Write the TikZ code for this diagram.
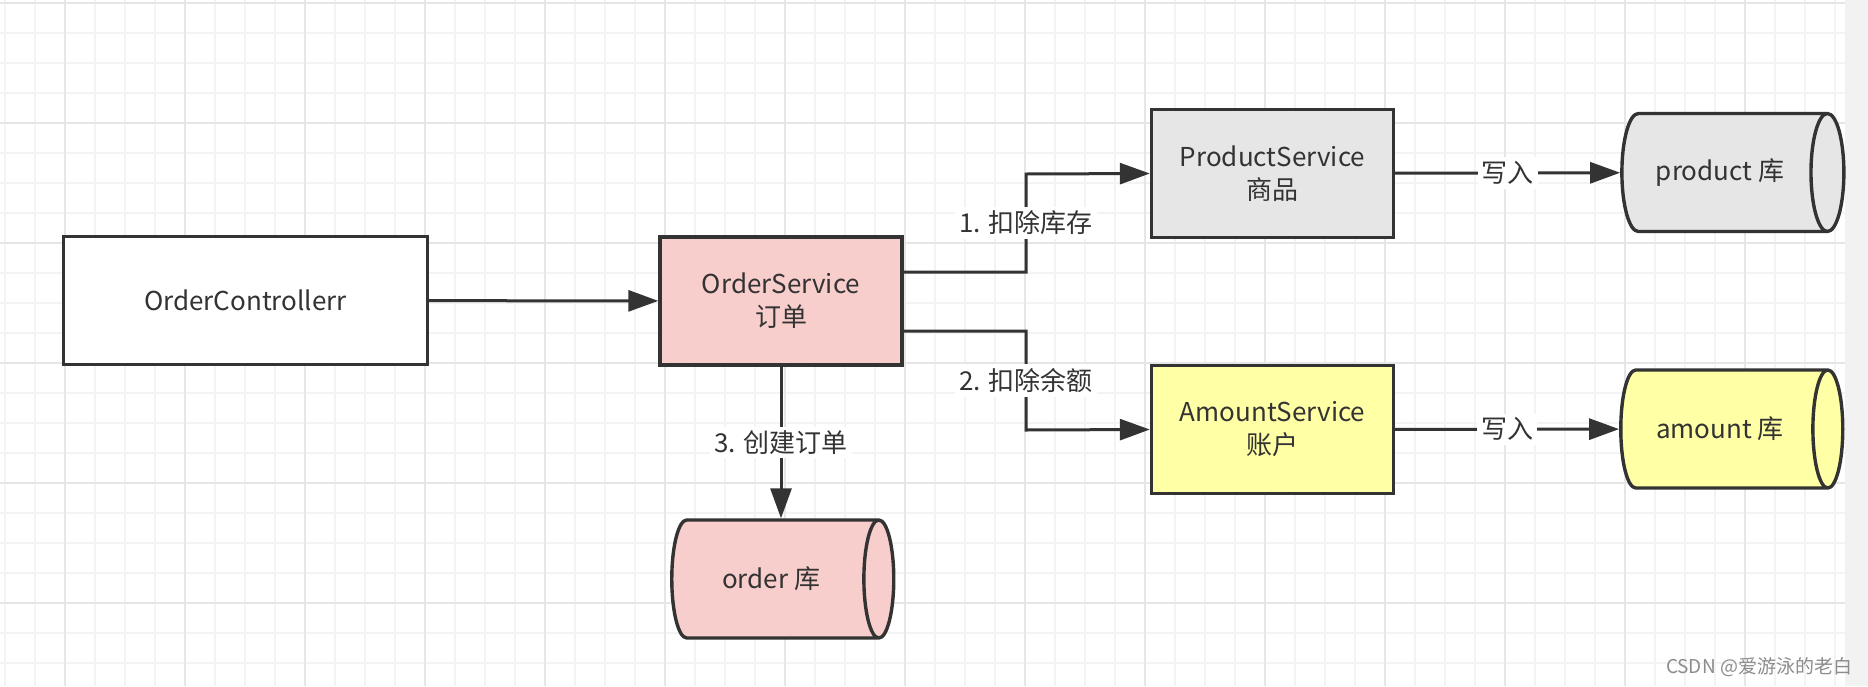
\documentclass[tikz,border=0pt]{standalone}
\usepackage{fontspec}
\setmainfont{Noto Sans CJK SC}
\usetikzlibrary{arrows.meta,shapes.geometric}
\definecolor{linecol}{HTML}{333333}
\definecolor{pinkfill}{HTML}{F8CECC}
\definecolor{greyfill}{HTML}{E6E6E6}
\definecolor{yellowfill}{HTML}{FFFFA6}
\definecolor{gridminor}{HTML}{F3F3F3}
\definecolor{gridmajor}{HTML}{E6E6E6}
\definecolor{stripfill}{HTML}{F2F2F2}

\begin{document}
\begin{tikzpicture}[x=0.5pt,y=-0.5pt,
	box/.style={draw=linecol,line width=1.7pt,minimum width=121pt,minimum height=64pt,
		align=center,text=linecol,font=\fontsize{13}{16.5}\selectfont},
	db/.style={cylinder,draw=linecol,line width=1.7pt,minimum height=111pt,minimum width=59pt,
		aspect=0.8,text=linecol,font=\fontsize{13}{16.5}\selectfont},
	flow/.style={draw=linecol,line width=1.5pt,-{Triangle[length=15pt,width=10.5pt]}},
	lbl/.style={fill=white,inner sep=2pt,text=linecol,font=\fontsize{13}{16.5}\selectfont}]
\useasboundingbox (0,0) rectangle (1868,686);
% grid
\fill[white] (0,0) rectangle (1845,686);
\fill[stripfill] (1845,0) rectangle (1868,686);
\foreach \x in {5,35,...,1835} \draw[gridminor,line width=0.7pt] (\x,0) -- (\x,686);
\foreach \y in {3,33,...,683} \draw[gridminor,line width=0.7pt] (0,\y) -- (1845,\y);
\foreach \x in {65,185,...,1745} \draw[gridmajor,line width=1pt] (\x,0) -- (\x,686);
\foreach \y in {3,123,...,603} \draw[gridmajor,line width=1pt] (0,\y) -- (1845,\y);

\path (245.5,300.5) node[box,fill=white,minimum width=182pt] (ctrl) {OrderControllerr}
		(781,301) node[box,fill=pinkfill] (svc) {OrderService\\订单}
		(1272.5,173.5) node[box,fill=greyfill] (prod) {ProductService\\商品}
		(1272.5,429.5) node[box,fill=yellowfill] (amt) {AmountService\\账户}
		(771,579) node[db,fill=pinkfill] (orderdb) {order 库}
		(1720,172.5) node[db,fill=greyfill] (proddb) {product 库}
		(1720,429) node[db,fill=yellowfill] (amtdb) {amount 库}
		(1759,667) node[text=black!45,font=\fontsize{9.5}{11}\selectfont] (wm) {CSDN @爱游泳的老白}
		;
\coordinate (k1) at (1026,174);
\coordinate (k2) at (1026,430);

\draw[flow] (ctrl) -- (svc);
\draw[flow] ([yshift=14.5pt]svc.east) -| node[lbl,pos=0.75] {1. 扣除库存} (k1) -- (prod.west);
\draw[flow] ([yshift=-15pt]svc.east) -| node[lbl,pos=0.75] {2. 扣除余额} (k2) -- (amt.west);
\draw[flow] (svc) -- node[lbl] {3. 创建订单} (orderdb.north -| svc);
\draw[flow] (prod) -- node[lbl] {写入} (proddb);
\draw[flow] (amt) -- node[lbl] {写入} (amtdb);
\end{tikzpicture}
\end{document}
